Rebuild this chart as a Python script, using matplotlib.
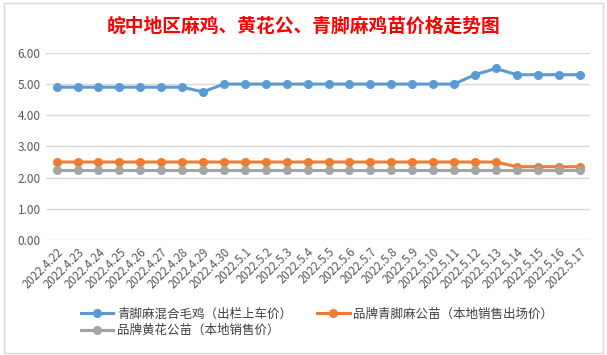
import matplotlib
matplotlib.use("Agg")
import matplotlib.pyplot as plt
from matplotlib.patches import Rectangle

plt.rcParams['font.family'] = ['Noto Sans CJK SC', 'DejaVu Sans']

dates = ["2022.4.22", "2022.4.23", "2022.4.24", "2022.4.25", "2022.4.26", "2022.4.27",
         "2022.4.28", "2022.4.29", "2022.4.30", "2022.5.1", "2022.5.2", "2022.5.3",
         "2022.5.4", "2022.5.5", "2022.5.6", "2022.5.7", "2022.5.8", "2022.5.9",
         "2022.5.10", "2022.5.11", "2022.5.12", "2022.5.13", "2022.5.14", "2022.5.15",
         "2022.5.16", "2022.5.17"]
mixed = [4.9, 4.9, 4.9, 4.9, 4.9, 4.9, 4.9, 4.75, 5.0, 5.0, 5.0, 5.0, 5.0, 5.0,
         5.0, 5.0, 5.0, 5.0, 5.0, 5.0, 5.3, 5.5, 5.3, 5.3, 5.3, 5.3]
qingjiao_chick = [2.5] * 22 + [2.35] * 4
huanghua_chick = [2.25] * 26
series_names = ["青脚麻混合毛鸡（出栏上车价）", "品牌青脚麻公苗（本地销售出场价）", "品牌黄花公苗（本地销售价）"]
colors = ["#5B9BD5", "#ED7D31", "#A5A5A5"]
yticks = [0, 1, 2, 3, 4, 5, 6]

fig = plt.figure(figsize=(6.07, 3.55), dpi=100)
fig.patches.append(Rectangle((0.006, 0.006), 0.988, 0.985, transform=fig.transFigure,
                             fill=False, edgecolor="#D9D9D9", linewidth=1))
ax = fig.add_axes([0.076, 0.324, 0.896, 0.527])
x = list(range(len(dates)))
handles = []
for vals, name, c in zip([mixed, qingjiao_chick, huanghua_chick], series_names, colors):
    h, = ax.plot(x, vals, color=c, linewidth=2.2, marker='o', markersize=5.5, label=name)
    handles.append(h)

ax.set_xlim(-0.5, len(dates) - 0.5)
ax.set_ylim(0, 6)
ax.set_yticks(yticks)
ax.set_yticklabels([f"{v:.2f}" for v in yticks], fontsize=8.5, color="#595959")
ax.set_xticks(x)
ax.set_xticklabels(dates, rotation=45, ha='right', rotation_mode='anchor', fontsize=8.3, color="#595959")
ax.grid(axis='y', color="#D9D9D9", linewidth=1)
ax.set_axisbelow(True)
for s in ax.spines.values():
    s.set_visible(False)
ax.tick_params(axis='both', length=0, pad=4)

fig.text(0.5, 0.925, "皖中地区麻鸡、黄花公、青脚麻鸡苗价格走势图", ha='center', va='center',
         fontsize=13.5, color="#FF0000", fontweight='bold')

order = [0, 2, 1]
leg = fig.legend([handles[i] for i in order], [series_names[i] for i in order],
                 loc='upper left', bbox_to_anchor=(0.125, 0.148), ncol=2, frameon=False,
                 fontsize=9, handlelength=2.6, columnspacing=2.0, labelspacing=0.3,
                 handletextpad=0.3, borderaxespad=0)
for t in leg.get_texts():
    t.set_color("#404040")

fig.savefig("out.png", dpi=100)
